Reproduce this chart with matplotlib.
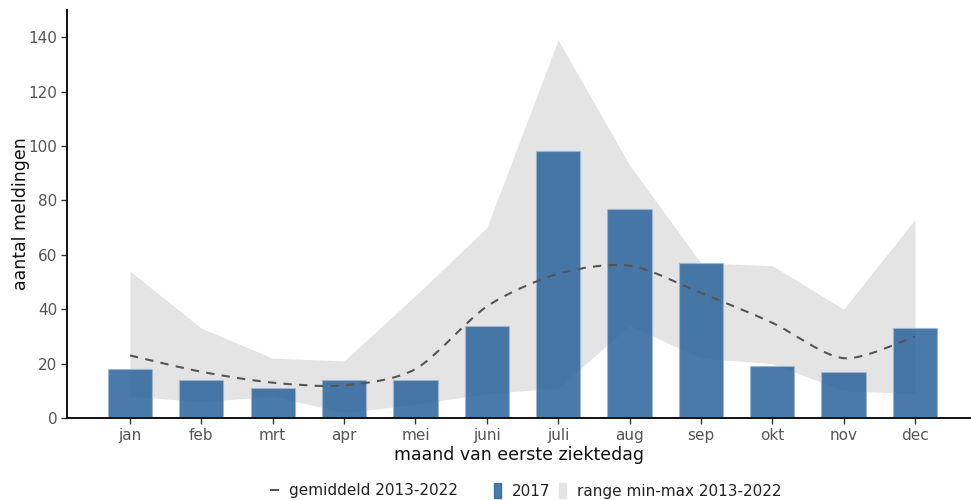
import matplotlib.pyplot as plt
import numpy as np
from matplotlib.lines import Line2D
from matplotlib.patches import Patch, PathPatch
from matplotlib.path import Path

# meldingen per maand van eerste ziektedag
maanden = ["jan", "feb", "mrt", "apr", "mei", "juni", "juli", "aug", "sep", "okt", "nov", "dec"]
meldingen_2017 = [18, 14, 11, 14, 14, 34, 98, 77, 57, 19, 17, 33]
gemiddeld = [23, 17, 13, 12, 18, 41, 53, 56, 46, 35, 22, 30]
range_min = [8, 6, 8, 2, 5, 9, 11, 34, 22, 20, 10, 9]
range_max = [54, 33, 22, 21, 45, 70, 139, 93, 57, 56, 40, 73]

kleur_bar = "#2a639b"
kleur_range = "#e4e4e4"
kleur_lijn = "#555555"
kleur_tekst = "#555555"

plt.rcParams["font.family"] = ["DejaVu Sans"]


def spline_pad(x, y, k=1 / 7):
    # catmull-rom door de punten, als bezier-pad
    pts = np.column_stack([x, y]).astype(float)
    ext = np.vstack([pts[0], pts, pts[-1]])
    verts = [pts[0]]
    codes = [Path.MOVETO]
    for i in range(1, len(ext) - 2):
        p0, p1, p2, p3 = ext[i - 1], ext[i], ext[i + 1], ext[i + 2]
        c1 = p1 + (p2 - p0) * k
        c2 = p2 - (p3 - p1) * k
        verts += [c1, c2, p2]
        codes += [Path.CURVE4] * 3
    return Path(verts, codes)


x = np.arange(1, len(maanden) + 1)

fig = plt.figure(figsize=(9.71, 5.0), dpi=100)
ax = fig.add_axes([67 / 971, 82 / 500, (971 - 67) / 971, 408 / 500])

# range min-max als grijs vlak
ax.fill_between(x, range_min, range_max, color=kleur_range, linewidth=0, zorder=1)

# staven 2017
ax.bar(x, meldingen_2017, width=0.62, color=kleur_bar, alpha=0.85,
       edgecolor="#9db6d3", linewidth=0.8, zorder=2)

# gemiddelde als gestippelde gladde lijn
lijn = PathPatch(spline_pad(x, gemiddeld), facecolor="none", edgecolor=kleur_lijn,
                 linewidth=1.5, linestyle=(0, (4, 3.5)), zorder=3)
ax.add_patch(lijn)

ax.set_xlim(0.117, 12.785)
ax.set_ylim(0, 150)
ax.set_xticks(x)
ax.set_xticklabels(maanden)
ax.set_yticks(np.arange(0, 141, 20))

for s in ["top", "right"]:
    ax.spines[s].set_visible(False)
for s in ["left", "bottom"]:
    ax.spines[s].set_linewidth(1.4)
    ax.spines[s].set_color("#111111")

ax.tick_params(axis="both", labelsize=11, labelcolor=kleur_tekst, color="#333333",
               length=4, width=1, pad=3)

ax.set_xlabel("maand van eerste ziektedag", fontsize=12.5, color="#111111", labelpad=2)
ax.set_ylabel("aantal meldingen", fontsize=12.5, color="#111111", labelpad=-1)

# legenda onderaan
leg1 = fig.legend(handles=[Line2D([], [], color=kleur_lijn, linewidth=1.5)],
                  labels=["gemiddeld 2013-2022"], loc="center right",
                  bbox_to_anchor=(458 / 971, 9 / 500), frameon=False, fontsize=11,
                  handlelength=0.5, handletextpad=0.7, borderpad=0, borderaxespad=0)
leg2 = fig.legend(handles=[Patch(color=kleur_bar, alpha=0.85), Patch(color=kleur_range)],
                  labels=["2017", "range min-max 2013-2022"], loc="center left",
                  bbox_to_anchor=(494 / 971, 9 / 500), frameon=False, fontsize=11, ncol=2,
                  handlelength=0.45, handleheight=1.1, handletextpad=0.7, columnspacing=0.6,
                  borderpad=0, borderaxespad=0)
for leg in (leg1, leg2):
    for t in leg.get_texts():
        t.set_color("#222222")

fig.savefig("out.png", dpi=100)
